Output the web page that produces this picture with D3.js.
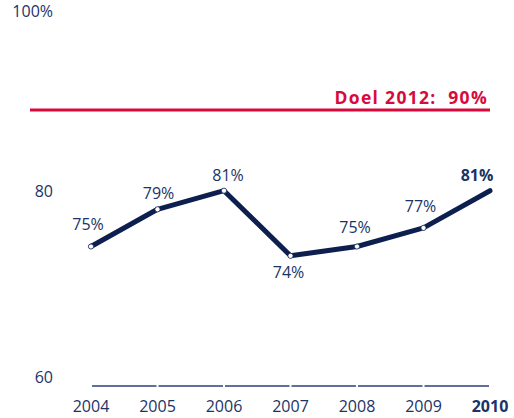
<!DOCTYPE html>
<html><head><meta charset="utf-8">
<script src="https://cdn.jsdelivr.net/npm/d3@7"></script>
<style>body{margin:0;background:#fff}svg{display:block}</style>
</head><body>
<script>
const years = ["2004","2005","2006","2007","2008","2009","2010"];
const values = [75, 79, 81, 74, 75, 77, 81];
const labels = ["75%","79%","81%","74%","75%","77%","81%"];
const yTicks = [60, 80, 100];
const yTickLabels = ["60", "80", "100%"];
const goalValue = 90;
const goalLabel = "Doel 2012:  90%";

const W = 514, H = 418;
const navy = "#0c1f4e", textNavy = "#1b3366", red = "#d80a3c";
const font = "'Open Sans', sans-serif";
const fs = 16;
const svg = d3.select("body").append("svg").attr("width", W).attr("height", H);

const x = d3.scalePoint().domain(years).range([91, 490]);
const y = d3.scaleLinear().domain([60, 100]).range([386, 14]);

// baseline segments between years
const segs = d3.pairs(years);
svg.selectAll("line.base").data(segs).enter().append("line")
  .attr("x1", d => x(d[0]) + 1).attr("x2", d => x(d[1]) - 1)
  .attr("y1", y(60)).attr("y2", y(60))
  .attr("stroke", "#2a4278").attr("stroke-width", 1.5);

// y tick labels
const yOff = [-7, -7, -1];
svg.selectAll("text.yt").data(yTicks).enter().append("text")
  .attr("x", 53).attr("y", (d, i) => y(d) + yOff[i])
  .attr("text-anchor", "end").attr("dominant-baseline", "middle")
  .attr("font-family", font).attr("font-size", fs).attr("fill", textNavy)
  .text((d, i) => yTickLabels[i]);

// x labels
svg.selectAll("text.xt").data(years).enter().append("text")
  .attr("x", d => x(d)).attr("y", 408)
  .attr("text-anchor", "middle").attr("dominant-baseline", "middle")
  .attr("font-family", font).attr("font-size", fs).attr("fill", textNavy)
  .attr("font-weight", (d, i) => i === years.length - 1 ? "bold" : "normal")
  .text(d => d);

// goal line
svg.append("line").attr("x1", 30).attr("x2", 490)
  .attr("y1", y(goalValue) + 3).attr("y2", y(goalValue) + 3)
  .attr("stroke", red).attr("stroke-width", 3);
svg.append("text").attr("x", 488).attr("y", y(goalValue) - 3)
  .attr("text-anchor", "end").attr("font-family", font)
  .attr("font-size", 17.5).attr("font-weight", "bold").attr("fill", red)
  .attr("letter-spacing", 1.3)
  .attr("xml:space", "preserve").style("white-space", "pre")
  .text(goalLabel);

// data line
const pts = years.map((yr, i) => ({yr, v: values[i], l: labels[i]}));
svg.append("path").datum(pts)
  .attr("d", d3.line().x(d => x(d.yr)).y(d => y(d.v)))
  .attr("fill", "none").attr("stroke", navy).attr("stroke-width", 5)
  .attr("stroke-linecap", "round").attr("stroke-linejoin", "round");

svg.selectAll("circle").data(pts.slice(0, -1)).enter().append("circle")
  .attr("cx", d => x(d.yr)).attr("cy", d => y(d.v)).attr("r", 2.6)
  .attr("fill", "#fff").attr("stroke", navy).attr("stroke-width", 0.8);

// data labels
const offs = [[-3,-21],[1,-15],[4,-14],[-2,18],[-2,-18],[-3,-20],[-13,-14]];
svg.selectAll("text.dl").data(pts).enter().append("text")
  .attr("x", (d, i) => x(d.yr) + offs[i][0]).attr("y", (d, i) => y(d.v) + offs[i][1])
  .attr("text-anchor", "middle").attr("dominant-baseline", "middle")
  .attr("font-family", font).attr("font-size", fs).attr("fill", textNavy)
  .attr("font-weight", (d, i) => i === pts.length - 1 ? "bold" : "normal")
  .text(d => d.l);
</script>
</body></html>
